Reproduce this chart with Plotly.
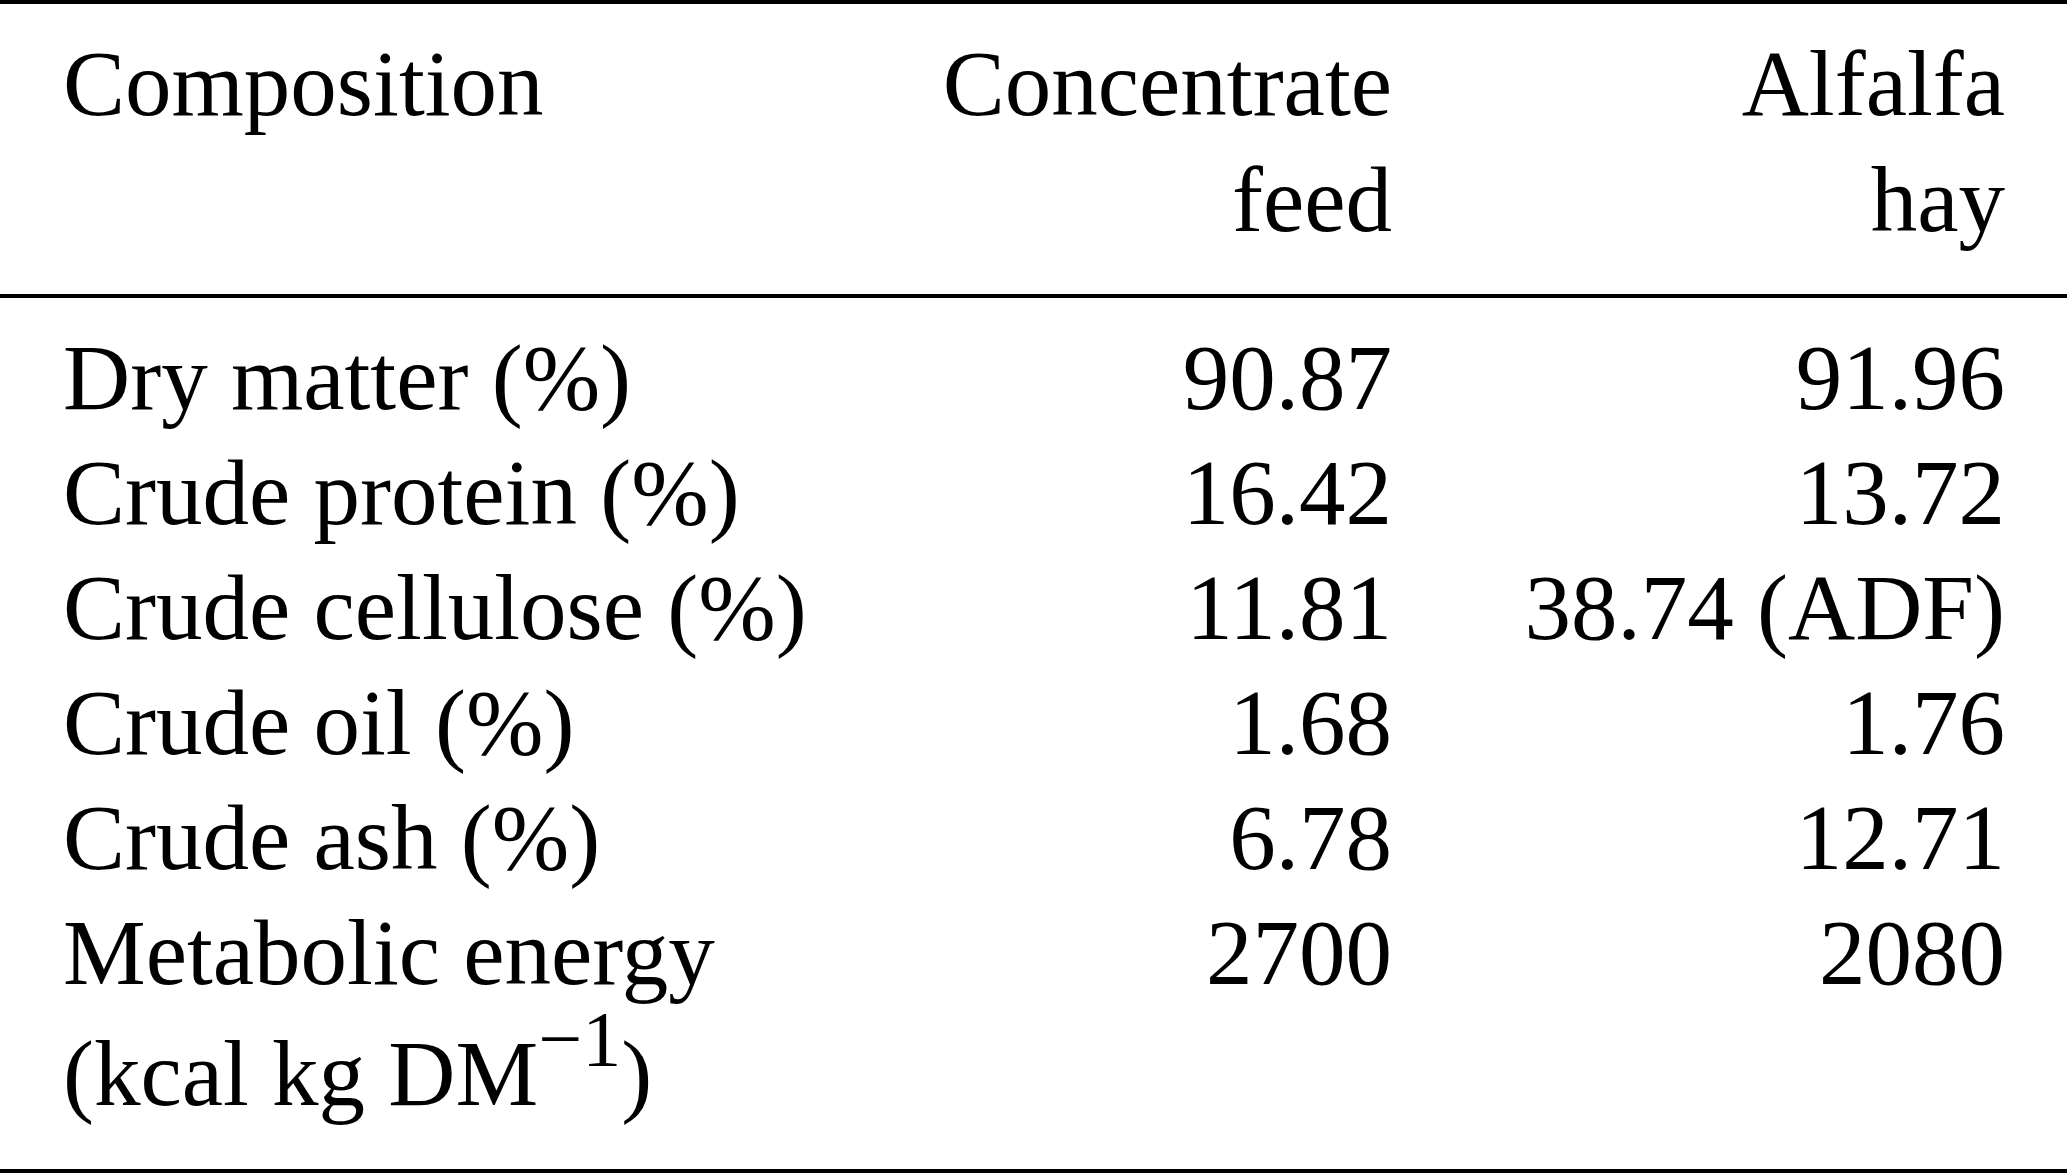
import plotly.graph_objects as go

# 表格数据
headers = ["Composition", "Concentrate<br>feed", "Alfalfa<br>hay"]
compositions = ["Dry matter (%)", "Crude protein (%)", "Crude cellulose (%)",
                "Crude oil (%)", "Crude ash (%)",
                "Metabolic energy<br>(kcal kg DM<sup><span style='font-size:78px'>−1</span></sup>)"]
concentrate_feed = ["90.87", "16.42", "11.81", "1.68", "6.78", "2700"]
alfalfa_hay = ["91.96", "13.72", "38.74 (ADF)", "1.76", "12.71", "2080"]

# 版面参数（像素）
W, H = 2067, 1174
FS = 93
FONT = "Liberation Serif, Times New Roman, serif"
col_x = [63, 1392, 2005]          # 第一列左对齐，其余右对齐
head_top, head_step = 115, 116     # 表头基线
body_top, body_step = 409, 115     # 表体基线
base_shift = 0.7 * FS + 5          # 基线与锚点的偏移
rules = [2, 296, 1171]             # 横线

fig = go.Figure()

# 表头：按行拆开，逐行放置
for j, h in enumerate(headers):
    lines = h.split("<br>")
    fig.add_trace(go.Scatter(
        x=[col_x[j]] * len(lines),
        y=[head_top + k * head_step - base_shift for k in range(len(lines))],
        text=lines, mode="text",
        textposition="bottom right" if j == 0 else "bottom left",
        textfont=dict(family=FONT, size=FS, color="black"),
        hoverinfo="skip", showlegend=False))

# 表体
columns = [compositions, concentrate_feed, alfalfa_hay]
for j, col in enumerate(columns):
    fig.add_trace(go.Scatter(
        x=[col_x[j]] * len(col),
        y=[body_top + i * body_step - base_shift for i in range(len(col))],
        text=col, mode="text",
        textposition="bottom right" if j == 0 else "bottom left",
        textfont=dict(family=FONT, size=FS, color="black"),
        hoverinfo="skip", showlegend=False))

# 三线表的横线
for y in rules:
    fig.add_shape(type="line", x0=0, x1=W, y0=y, y1=y,
                  line=dict(color="black", width=4))

fig.update_xaxes(range=[0, W], visible=False, fixedrange=True)
fig.update_yaxes(range=[H, 0], visible=False, fixedrange=True)
fig.update_layout(width=W, height=H, margin=dict(l=0, r=0, t=0, b=0),
                  paper_bgcolor="white", plot_bgcolor="white")

# 去掉页面默认边距，隐藏工具栏
fig.write_html("out.html", config={"displayModeBar": False},
               post_script="document.body.style.margin='0';")
